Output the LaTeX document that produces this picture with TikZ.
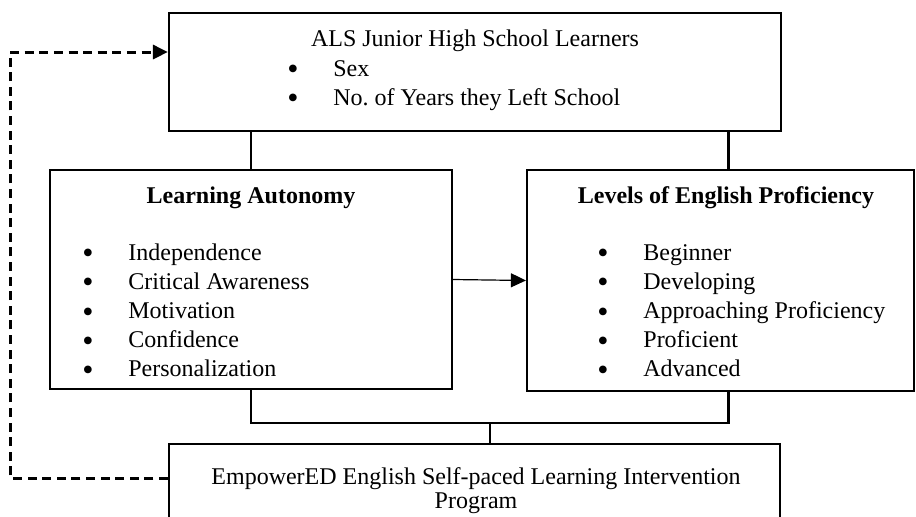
\documentclass[tikz,border=0pt]{standalone}
\usepackage{fontspec}
\setmainfont{Liberation Serif}
\usetikzlibrary{arrows.meta}

\newcommand{\bul}{\makebox[23pt][l]{\raisebox{-1.8pt}{\fontsize{16}{16}\selectfont\textbullet}}}

\begin{document}
\begin{tikzpicture}[x=0.5pt, y=-0.5pt,
  font=\fontsize{12}{14.6}\selectfont,
  box/.style={draw, line width=1.1pt, inner sep=0pt},
  link/.style={line width=1.1pt},
  title/.style={anchor=base, font=\fontsize{12}{14.6}\selectfont\bfseries},
  entry/.style={anchor=base west, inner sep=0pt},
  feedback/.style={dash pattern=on 4.5pt off 2.8pt, line width=1.5pt, -{Triangle[length=7.5pt,width=7pt]}}]
\useasboundingbox (0,0) rectangle (916,516);
\clip (0,0) rectangle (916,516);

% boxes
\node[box, minimum width=306pt, minimum height=59pt] (learners) at (475,72) {};
\node[box, minimum width=201pt, minimum height=109.5pt] (autonomy) at (251,279.5) {};
\node[box, minimum width=193.5pt, minimum height=110.5pt] (proficiency) at (720.5,280.5) {};
\node[box, minimum width=305.5pt, minimum height=58pt] (program) at (474.5,502) {};

% texts
\node[anchor=base] (learners-title) at (475,46) {ALS Junior High School Learners};
\foreach \lbl [count=\i] in {Sex, No.\ of Years they Left School}
  \node[entry] (learners-\i) at (287, 47+29*\i) {\bul\lbl};

\node[title] (autonomy-title) at (251,203) {Learning Autonomy};
\foreach \lbl [count=\i] in {Independence, Critical Awareness, Motivation, Confidence, Personalization}
  \node[entry] (autonomy-\i) at (82, 230.8+29.2*\i) {\bul\lbl};

\node[title] (proficiency-title) at (726,203) {Levels of English Proficiency};
\foreach \lbl [count=\i] in {Beginner, Developing, Approaching Proficiency, Proficient, Advanced}
  \node[entry] (proficiency-\i) at (597, 230.8+29.2*\i) {\bul\lbl};

\node[align=center, font=\fontsize{12}{12}\selectfont, anchor=north, inner sep=0pt] (program-text) at (476,467)
  {EmpowerED English Self-paced Learning Intervention\\Program};

% connectors
\draw[link] (autonomy.north) -- (autonomy.north |- learners.south);
\draw[link] ([xshift=4pt]proficiency.north) -- ([xshift=4pt]proficiency.north |- learners.south);
\coordinate (join) at (490,423);
\draw[link] (autonomy.south) |- (join) -| ([xshift=4pt]proficiency.south);
\draw[link] (join) -- (join |- program.north);
\draw[-{Triangle[length=7.5pt,width=7pt]}, line width=0.6pt] (autonomy.east) -- (proficiency.west);

% feedback loop
\coordinate (back) at (10,52);
\draw[feedback] ([yshift=12pt]program.west) -| (back) -- (back -| learners.west);
\end{tikzpicture}
\end{document}
